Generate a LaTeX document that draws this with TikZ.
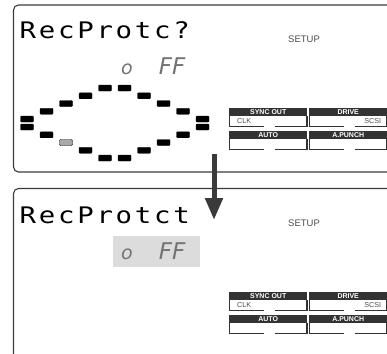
\documentclass[tikz,border=0pt]{standalone}
\usepackage{fontspec}
\setsansfont{Liberation Sans}
\newfontfamily\lcdfont[LetterSpace=10]{DejaVu Sans Mono}
\newfontfamily\segfont{DejaVu Sans}
\usetikzlibrary{arrows.meta}
\definecolor{framegray}{HTML}{3A3A3A}
\definecolor{btngray}{HTML}{333333}
\definecolor{labelgray}{HTML}{4D4D4D}
\definecolor{litgray}{HTML}{A8A8A8}
\definecolor{selgray}{HTML}{DCDCDC}

\begin{document}
\begin{tikzpicture}[x=1pt, y=-1pt,
    panel/.style={draw=framegray, line width=1.1pt, rounded corners=5pt},
    lcdtext/.style={inner sep=0, anchor=base west, font=\lcdfont\fontsize{22.8}{22.8}\selectfont},
    segtext/.style={inner sep=0, anchor=base west, text=black!55, font=\segfont\itshape\fontsize{23}{23}\selectfont},
    setuptext/.style={inner sep=0, text=labelgray, font=\sffamily\fontsize{9.5}{9.5}\selectfont},
    btnhead/.style={fill=btngray, text=white, inner sep=0, anchor=north west,
                    minimum width=78pt, minimum height=7.7pt,
                    font=\sffamily\bfseries\fontsize{7}{7}\selectfont},
    btnline/.style={draw=btngray, line width=1.3pt},
    btnvalue/.style={inner sep=0, text=labelgray, font=\sffamily\fontsize{7.2}{7.2}\selectfont},
    segdash/.style={draw=black, line width=0.4pt, rounded corners=1pt},
    bigarrow/.style={draw=framegray, line width=5pt, -{Triangle[width=17pt, length=22pt]}}
]
\useasboundingbox (0,0) rectangle (387,353);
\clip (0,0) rectangle (387,353);

% the two display panels
\draw[panel] (13.5,5) rectangle (420,172);
\draw[panel] (13.5,188.5) rectangle (420,420);

% selected value in the lower panel
\fill[selgray] (113,236) rectangle (200,267);

% titles
\node[lcdtext] (toptitle) at (19.5,38.3) {\scalebox{1.2}[1]{RecProtc?}};
\node[lcdtext] (bottitle) at (19.5,223) {\scalebox{1.2}[1]{RecProtct}};

% value o FF
\node[segtext] (topvalue) at (121,74) {{\fontsize{19}{19}\selectfont o}\hspace{26pt}FF};
\node[segtext] (botvalue) at (121,259) {{\fontsize{19}{19}\selectfont o}\hspace{26pt}FF};

% jog ring
\foreach \i/\k/\lowfill in {0/4/black, 1/3/black, 2/2/litgray, 3/1/black, 4/0/black,
                             5/0/black, 6/1/black, 7/2/black, 8/3/black, 9/4/black} {
    \pgfmathsetmacro{\dx}{27+19.5*\i}
    \pgfmathsetmacro{\uy}{88+7.75*\k}
    \pgfmathsetmacro{\ly}{158-7.75*\k}
    \filldraw[segdash, fill=black] (\dx-6.5,\uy-3) rectangle +(13,6);
    \filldraw[segdash, fill=\lowfill] (\dx-6.5,\ly-3) rectangle +(13,6);
}

% setup label and buttons, upper and lower panel
\foreach \dy in {0,184} {
    \node[setuptext] (setup\dy) at (304,39+\dy) {SETUP};
    \foreach \bx/\by/\btitle/\bname in {229/108/SYNC OUT/sync, 309/108/DRIVE/drive,
                                        229/131/AUTO/auto, 309/131/A.PUNCH/apunch} {
        \node[btnhead] (\bname\dy) at (\bx,\by+\dy) {\btitle};
        \draw[draw=btngray, line width=0.5pt] (\bname\dy.south west) -- ++(0,10.3);
        \draw[btnline] ([yshift=-10.3pt]\bname\dy.south west) -- ++(35,0)
            ++(11,0) -- ++(32,0) -- ++(0,-10.3);
    }
    \node[btnvalue, anchor=north west] (clk\dy) at ([xshift=8pt, yshift=-2pt]sync\dy.south west) {CLK};
    \node[btnvalue, anchor=north east] (scsi\dy) at ([xshift=-6pt, yshift=-2pt]drive\dy.south east) {SCSI};
}

% transition
\coordinate (arrowstart) at (214,154);
\coordinate (arrowend) at (214,220);
\draw[bigarrow] (arrowstart) -- (arrowend);
\end{tikzpicture}
\end{document}
